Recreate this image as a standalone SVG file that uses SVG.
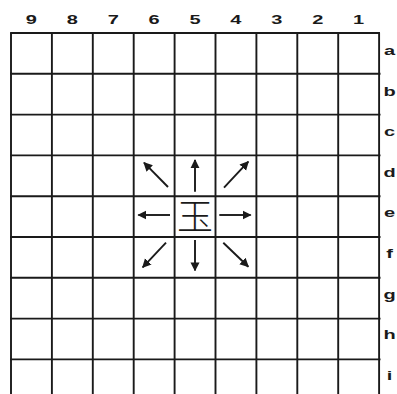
<svg xmlns="http://www.w3.org/2000/svg" width="397" height="394" viewBox="0 0 397 394">
<style>
.grid line{stroke:#1a1a1a;stroke-width:1.9}
.lbl{font-family:"Liberation Sans",Arial,sans-serif;font-weight:bold;font-size:12.5px;fill:#1a1a1a;text-anchor:middle}
.arr line{stroke:#1a1a1a;stroke-width:1.9;marker-end:url(#ah)}
.king{font-family:"Noto Sans CJK JP","Noto Sans CJK SC",sans-serif;font-weight:300;font-size:36px;fill:#1a1a1a;text-anchor:middle}
</style>
<defs>
<marker id="ah" viewBox="0 0 10 10" refX="9" refY="5" markerWidth="9" markerHeight="11" markerUnits="userSpaceOnUse" orient="auto">
<path d="M0,0 L10,5 L0,10 z" fill="#1a1a1a"/>
</marker>
</defs>
<rect width="397" height="394" fill="#fff"/>
<g id="board" class="grid">
<line x1="11" y1="33" x2="11" y2="394"/>
<line x1="51.9" y1="33" x2="51.9" y2="394"/>
<line x1="92.8" y1="33" x2="92.8" y2="394"/>
<line x1="133.7" y1="33" x2="133.7" y2="394"/>
<line x1="174.6" y1="33" x2="174.6" y2="394"/>
<line x1="215.5" y1="33" x2="215.5" y2="394"/>
<line x1="256.4" y1="33" x2="256.4" y2="394"/>
<line x1="297.3" y1="33" x2="297.3" y2="394"/>
<line x1="338.2" y1="33" x2="338.2" y2="394"/>
<line x1="379.1" y1="33" x2="379.1" y2="394"/>
<line x1="10.1" y1="33" x2="380" y2="33"/>
<line x1="10.1" y1="73.8" x2="380.5" y2="73.8"/>
<line x1="10.1" y1="114.6" x2="380.5" y2="114.6"/>
<line x1="10.1" y1="155.4" x2="380.5" y2="155.4"/>
<line x1="10.1" y1="196.2" x2="380.5" y2="196.2"/>
<line x1="10.1" y1="237" x2="380.5" y2="237"/>
<line x1="10.1" y1="277.8" x2="380.5" y2="277.8"/>
<line x1="10.1" y1="318.6" x2="380.5" y2="318.6"/>
<line x1="10.1" y1="359.4" x2="380.5" y2="359.4"/>
</g>
<g id="file-labels" class="lbl">
<text transform="translate(31.4,24) scale(1.6,1)">9</text>
<text transform="translate(72.3,24) scale(1.6,1)">8</text>
<text transform="translate(113.2,24) scale(1.6,1)">7</text>
<text transform="translate(154.1,24) scale(1.6,1)">6</text>
<text transform="translate(195,24) scale(1.6,1)">5</text>
<text transform="translate(235.9,24) scale(1.6,1)">4</text>
<text transform="translate(276.8,24) scale(1.6,1)">3</text>
<text transform="translate(317.7,24) scale(1.6,1)">2</text>
<text transform="translate(358.6,24) scale(1.6,1)">1</text>
</g>
<g id="rank-labels" class="lbl">
<text transform="translate(389.5,55) scale(1.6,1)">a</text>
<text transform="translate(389.5,95.6) scale(1.6,1)">b</text>
<text transform="translate(389.5,136.2) scale(1.6,1)">c</text>
<text transform="translate(389.5,176.8) scale(1.6,1)">d</text>
<text transform="translate(389.5,217.4) scale(1.6,1)">e</text>
<text transform="translate(389.5,258) scale(1.6,1)">f</text>
<text transform="translate(389.5,298.6) scale(1.6,1)">g</text>
<text transform="translate(389.5,339.2) scale(1.6,1)">h</text>
<text transform="translate(389.5,379.8) scale(1.6,1)">i</text>
</g>
<g id="king">
<text class="king" x="195" y="229.5">玉</text>
</g>
<g id="moves" class="arr">
<line x1="195" y1="191.7" x2="195" y2="160"/>
<line x1="195" y1="240" x2="195" y2="270.5"/>
<line x1="170" y1="215" x2="138.3" y2="215"/>
<line x1="219.3" y1="215" x2="250.7" y2="215"/>
<line x1="168" y1="187" x2="144" y2="162.7"/>
<line x1="224" y1="187.7" x2="248.3" y2="161.7"/>
<line x1="166" y1="242.7" x2="142.7" y2="267.3"/>
<line x1="223.3" y1="242.7" x2="248.3" y2="266.7"/>
</g>
</svg>
